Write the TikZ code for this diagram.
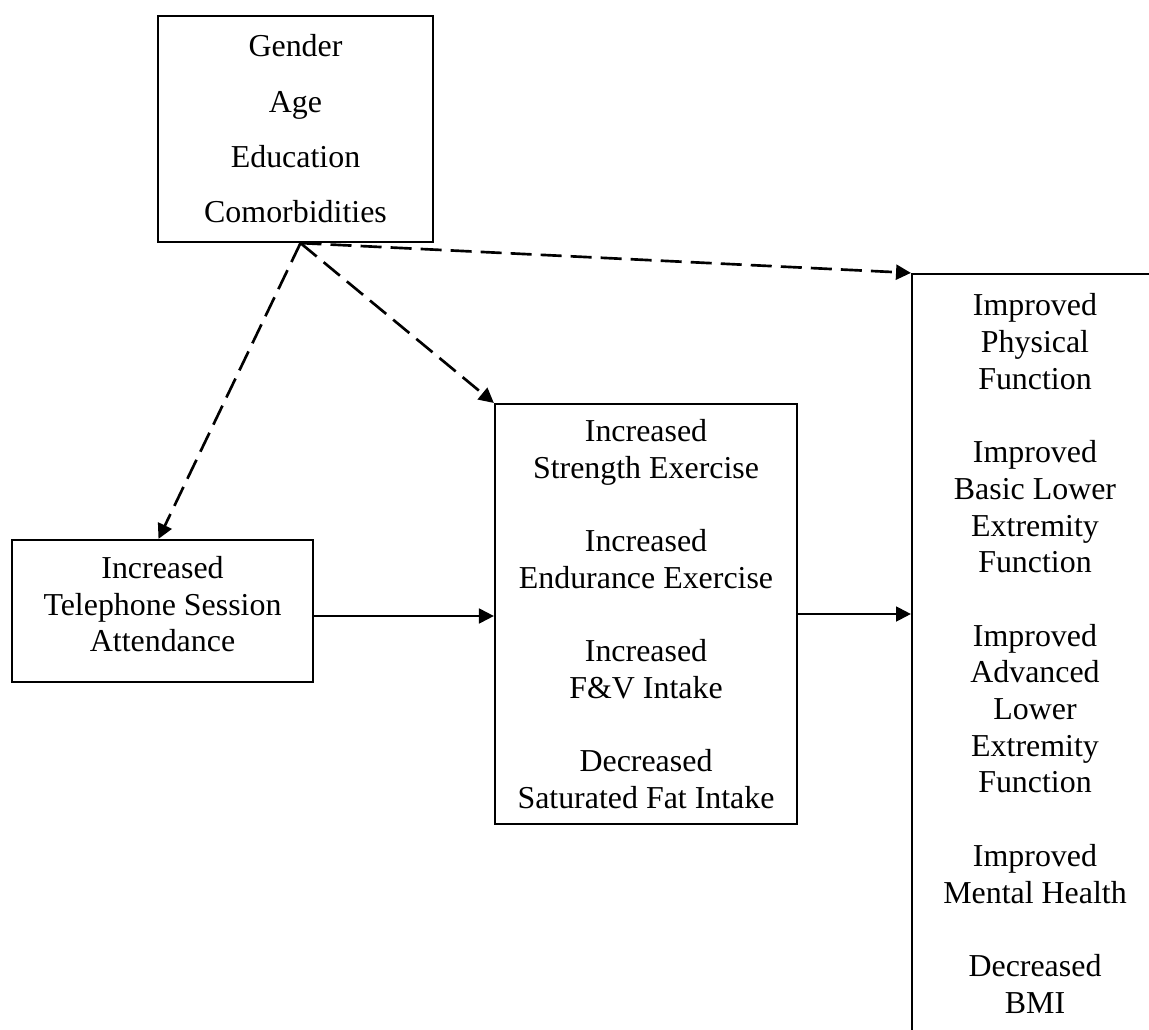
\documentclass[tikz,border=0pt]{standalone}
\usepackage{fontspec}
\setmainfont{Liberation Serif}
\usetikzlibrary{arrows.meta,calc}

\begin{document}
\begin{tikzpicture}[x=0.376pt,y=-0.376pt,>={Triangle[length=5.6pt,width=5.6pt]},line width=0.8pt,
  box/.style={draw,align=center,inner sep=0pt,font=\fontsize{12}{13.8}\selectfont},
  dasharrow/.style={->,line width=1pt,dash pattern=on 7.9pt off 3.4pt},
  solidarrow/.style={->}]
  \useasboundingbox (0,0) rectangle (1149,1030);
  \clip (0,0) rectangle (1149,1030);
  % boxes
  \node[box,minimum width=103.4pt,minimum height=85pt,font=\fontsize{12}{20.8}\selectfont] (covar) at (295.5,129)
    {Gender\\Age\\Education\\Comorbidities};
  \node[box,minimum width=113.2pt,minimum height=53.4pt] (attend) at (162.5,611)
    {Increased\\Telephone Session\\Attendance\\[-8.6pt]};
  \node[box,minimum width=113.6pt,minimum height=157.9pt] (activ) at (646,614)
    {Increased\\Strength Exercise\\[13.8pt]
     Increased\\Endurance Exercise\\[13.8pt]
     Increased\\F\&V Intake\\[13.8pt]
     Decreased\\Saturated Fat Intake};
  \node[box,minimum width=92.5pt,minimum height=285.4pt] (outc) at (1035,653.5)
    {Improved\\Physical\\Function\\[13.8pt]
     Improved\\Basic Lower\\Extremity\\Function\\[13.8pt]
     Improved\\Advanced\\Lower\\Extremity\\Function\\[13.8pt]
     Improved\\Mental Health\\[13.8pt]
     Decreased\\BMI};
  % paths
  \coordinate (fork) at ($(covar.south)+(5,0)$);
  \draw[dasharrow] (fork) -- ($(attend.north)+(-4,0)$);
  \draw[dasharrow] (fork) -- (activ.north west);
  \draw[dasharrow] (fork) -- (outc.north west);
  \draw[solidarrow] ($(attend.east)+(0,5)$) -- ($(attend.east -| activ.west)+(0,5)$);
  \draw[solidarrow] (activ.east) -- (activ.east -| outc.west);
\end{tikzpicture}
\end{document}
